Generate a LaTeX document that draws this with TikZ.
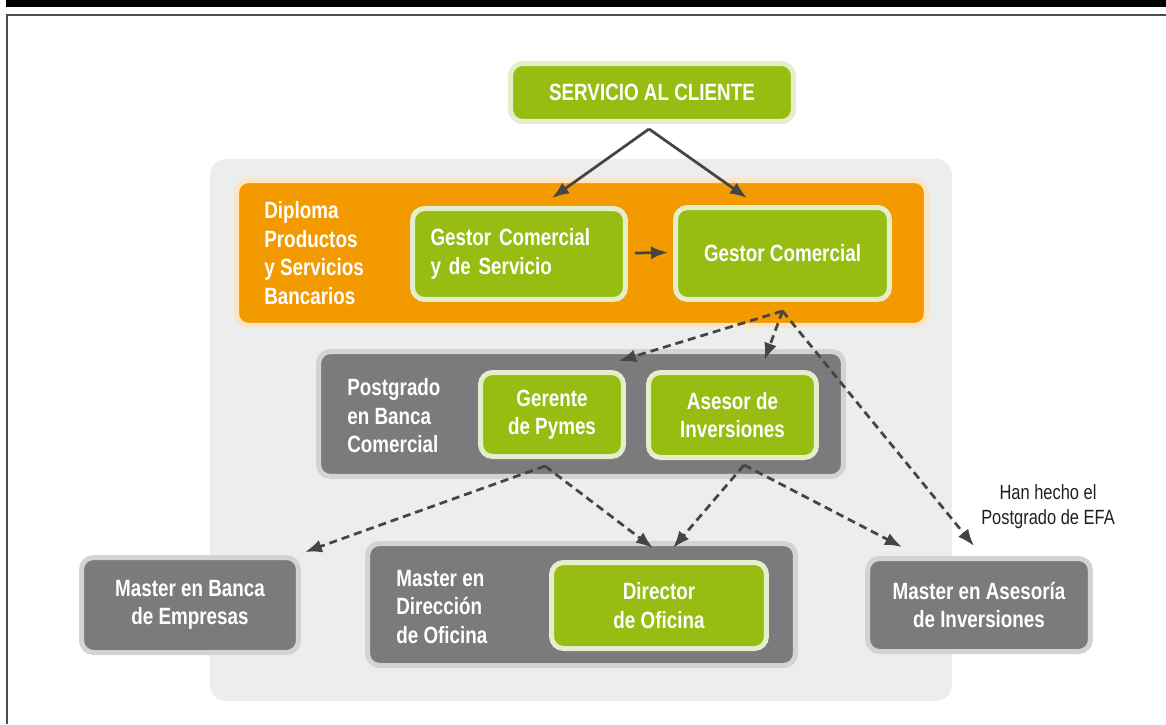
\documentclass[tikz,border=0pt]{standalone}
\usepackage{fontspec}
\setmainfont{Liberation Sans}[FakeStretch=0.8]
\usetikzlibrary{arrows.meta,calc}
\definecolor{leaf}{HTML}{97BC12}
\definecolor{leafrim}{HTML}{E5EECB}
\definecolor{amber}{HTML}{F29A00}
\definecolor{amberrim}{HTML}{FDE4C4}
\definecolor{slate}{HTML}{7B7B7D}
\definecolor{slaterim}{HTML}{D2D3D5}
\definecolor{panel}{HTML}{ECEDED}
\definecolor{ink}{HTML}{444546}
\definecolor{framegray}{HTML}{4D4D4D}
\begin{document}
\begin{tikzpicture}[x=0.02cm,y=-0.02cm]
\tikzstyle{greenbox}=[rectangle,rounded corners=0.24cm,fill=leaf,draw=leafrim,line width=0.1cm,text=white,font=\bfseries\fontsize{13.4}{16.2}\selectfont,align=center,inner sep=0pt]
\tikzstyle{graybox}=[greenbox,fill=slate,draw=slaterim]
\tikzstyle{boxtitle}=[anchor=west,inner sep=0pt,align=left,text=white,font=\bfseries\fontsize{13.4}{16.2}\selectfont]
\tikzstyle{link}=[draw=ink,line width=0.055cm,-{Latex[length=0.34cm,width=0.26cm]}]
\tikzstyle{dlink}=[link,dash pattern=on 0.16cm off 0.1cm]
\useasboundingbox (0,0) rectangle (1166,724);
\fill[black] (6,0) rectangle (1166,7);
\draw[framegray,line width=0.04cm] (7,724) -- (7,15) -- (1166,15);
\fill[panel,rounded corners=0.32cm] (210,159) rectangle (952,701);

\node (sc) at (652,92.5) [greenbox,minimum width=5.66cm,minimum height=1.16cm] {SERVICIO AL CLIENTE};

\node (dip) at (581.5,253) [greenbox,fill=amber,draw=amberrim,minimum width=13.8cm,minimum height=2.9cm] {};
\node (diptitle) at (264,253) [boxtitle] {Diploma\\Productos\\y Servicios\\Bancarios};
\node (gcs) at (519,254) [greenbox,align=left,text width=3.54cm,inner xsep=0.36cm,minimum height=1.82cm] {Gestor Comercial\\y de Servicio};
\node (gc) at (782.5,253.5) [greenbox,minimum width=4.28cm,minimum height=1.84cm] {Gestor Comercial};

\node (pg) at (581,414) [graybox,minimum width=10.5cm,minimum height=2.5cm] {};
\node (pgtitle) at (347,416) [boxtitle] {Postgrado\\en Banca\\Comercial};
\node (gp) at (552,414.5) [greenbox,minimum width=2.86cm,minimum height=1.68cm] {Gerente\\de Pymes};
\node (ai) at (732.5,415) [greenbox,minimum width=3.36cm,minimum height=1.7cm] {Asesor de\\Inversiones};

\node (mbe) at (190,605) [graybox,minimum width=4.34cm,minimum height=1.9cm] {Master en Banca\\de Empresas};
\node (mdo) at (581.5,604.5) [graybox,minimum width=8.56cm,minimum height=2.44cm] {};
\node (mdotitle) at (396,607) [boxtitle] {Master en\\Dirección\\de Oficina};
\node (dof) at (659,605.5) [greenbox,minimum width=4.3cm,minimum height=1.72cm] {Director\\de Oficina};
\node (mai) at (979,605) [graybox,minimum width=4.46cm,minimum height=1.86cm] {Master en Asesoría\\de Inversiones};

\node (efanote) at (1048,507) [align=center,inner sep=0pt,text=black!88,font=\fontsize{11.7}{14.2}\selectfont] {Han hecho el\\Postgrado de EFA};

\draw [link] ($(sc.south)+(-3,5)$) -- ($(gcs.north)+(33,-8)$);
\draw [link] ($(sc.south)+(-3,5)$) -- ($(gc.north)+(-35.5,-7)$);
\draw [link] ($(gcs.east)+(7,-1)$) -- ($(gc.west)+(-5,-1)$);

\draw [dlink] ($(gc.south)+(0,9)$) -- ($(gp.north)+(67,-9)$);
\draw [dlink] ($(gc.south)+(0,9)$) -- ($(ai.north)+(32,-10)$);
\draw [dlink] ($(gc.south)+(0,9)$) -- ($(mai.north)+(-5,-10)$);
\draw [dlink] ($(gp.south)+(-7,7)$) -- ($(mbe.north east)+(4,-3)$);
\draw [dlink] ($(gp.south)+(-7,7)$) -- ($(dof.north)+(-6,-12)$);
\draw [dlink] ($(ai.south)+(11.5,5)$) -- ($(dof.north)+(14,-12)$);
\draw [dlink] ($(ai.south)+(11.5,5)$) -- ($(mai.north west)+(37,-9)$);
\end{tikzpicture}
\end{document}
